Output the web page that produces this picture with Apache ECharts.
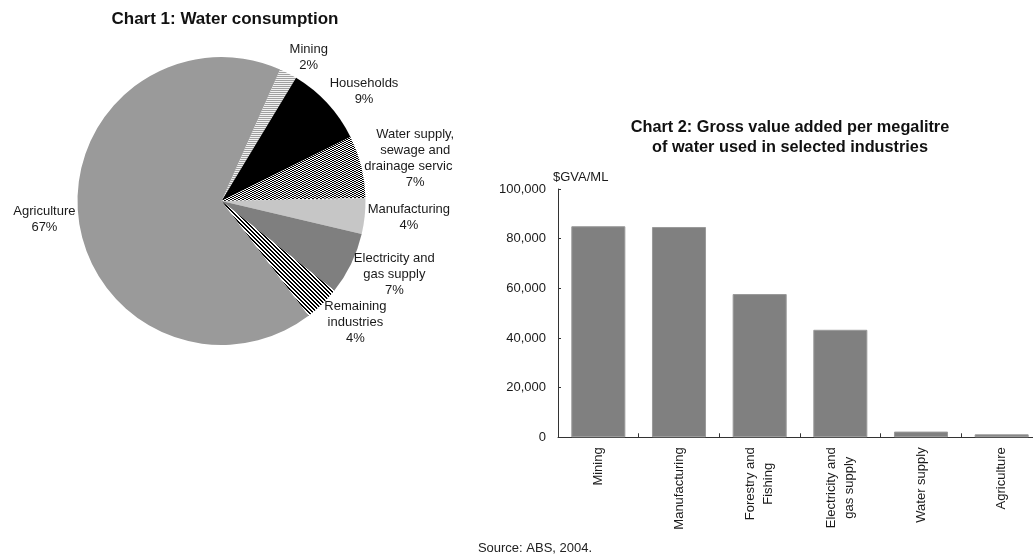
<!DOCTYPE html>
<html>
<head>
<meta charset="utf-8">
<script src="https://cdn.jsdelivr.net/npm/echarts@6/dist/echarts.min.js"></script>
<style>
  html, body { margin: 0; padding: 0; background: #fff; overflow: hidden; width: 1033px; height: 559px; }
  #pie { position: absolute; left: 0; top: 0; width: 453px; height: 559px; }
  #bar { position: absolute; left: 453px; top: 0; width: 600px; height: 559px; }
</style>
</head>
<body>
<div id="pie"></div>
<div id="bar"></div>
<script>
// ---- Data ----
var pieTitle = 'Chart 1: Water consumption';
var pieNames = ['Mining', 'Households', 'Water supply,\nsewage and\ndrainage services', 'Manufacturing',
                'Electricity and\ngas supply', 'Remaining\nindustries', 'Agriculture'];
var pieValues = [2, 9, 7, 4, 7, 4, 67];

var barTitle = 'Chart 2: Gross value added per megalitre\nof water used in selected industries';
var barUnit = '$GVA/ML';
var barCategories = ['Mining', 'Manufacturing', 'Forestry and\nFishing', 'Electricity and\ngas supply', 'Water supply', 'Agriculture'];
var barValues = [85000, 84700, 57700, 43300, 2300, 1200];
var yTicks = [0, 20000, 40000, 60000, 80000, 100000];
var sourceText = 'Source: ABS, 2004.';

var FONT = '"Liberation Sans", Arial, Helvetica, sans-serif';

// ---- Patterns ----
function makePattern(w, h, fn) {
  var c = document.createElement('canvas');
  c.width = w; c.height = h;
  var ctx = c.getContext('2d');
  for (var y = 0; y < h; y++) for (var x = 0; x < w; x++) {
    ctx.fillStyle = fn(x, y);
    ctx.fillRect(x, y, 1, 1);
  }
  return { image: c, repeat: 'repeat' };
}
var miningFill = makePattern(2, 2, function (x, y) { return y % 2 === 0 ? '#a0a0a0' : '#f2f2f2'; });
var waterFill = makePattern(4, 4, function (x, y) { return ((x + 2 * y) % 4) < 2 ? '#000000' : '#ffffff'; });
var remainFill = makePattern(4, 4, function (x, y) { return ((x - y + 8) % 4) < 2 ? '#000000' : '#ffffff'; });
var sliceFills = [miningFill, '#000000', waterFill, '#c6c6c6', '#7f7f7f', remainFill, '#9a9a9a'];

// ---- Pie geometry (for label placement, derived from the data) ----
var PIE_CX = 221.5, PIE_CY = 201, PIE_R = 144, START_DEG = 24; // clockwise from 12 o'clock
var pieTotal = pieValues.reduce(function (a, b) { return a + b; }, 0);
var pieMid = [];
(function () {
  var acc = 0;
  for (var i = 0; i < pieValues.length; i++) {
    var a0 = START_DEG + acc / pieTotal * 360;
    acc += pieValues[i];
    var a1 = START_DEG + acc / pieTotal * 360;
    pieMid.push((a0 + a1) / 2 * Math.PI / 180);
  }
})();

// ---- Pie chart ----
var pieChart = echarts.init(document.getElementById('pie'), null, { renderer: 'canvas' });
pieChart.setOption({
  animation: false,
  graphic: [{
    type: 'text', x: 225, y: 19,
    style: { text: pieTitle, font: 'bold 17px ' + FONT, fill: '#111', align: 'center', verticalAlign: 'middle' }
  }],
  series: [{
    type: 'pie',
    center: [PIE_CX, PIE_CY],
    radius: PIE_R,
    startAngle: 90 - START_DEG,
    clockwise: true,
    avoidLabelOverlap: false,
    silent: true,
    data: pieNames.map(function (n, i) {
      return { name: n, value: pieValues[i], itemStyle: { color: sliceFills[i] } };
    }),
    itemStyle: { borderWidth: 0 },
    label: {
      show: true,
      position: 'outside',
      fontFamily: FONT,
      fontSize: 13,
      color: '#1a1a1a',
      formatter: function (p) {
        return p.name.split('\n').concat([p.value + '%']).map(function (s) { return '{c|' + s + '}'; }).join('\n');
      },
      rich: { c: { align: 'center', fontFamily: FONT, fontSize: 13, lineHeight: 16, color: '#1a1a1a' } }
    },
    labelLine: { show: false, length: 3, length2: 0 },
    labelLayout: function (p) {
      var th = pieMid[p.dataIndex];
      var sx = Math.sin(th), sy = -Math.cos(th);
      var R = PIE_R + 3;
      var w = p.labelRect.width, h = p.labelRect.height;
      return {
        x: PIE_CX + R * sx + (sx >= 0 ? 1 : -1) * (w / 2),
        y: PIE_CY + R * sy + sy * h / 2,
        align: 'center',
        verticalAlign: 'middle',
        hideOverlap: false,
        moveOverlap: false
      };
    }
  }]
});

// ---- Bar chart ----
var barChart = echarts.init(document.getElementById('bar'), null, { renderer: 'canvas' });
barChart.setOption({
  animation: false,
  graphic: [{
    type: 'text', x: 337, y: 138,
    style: { text: barTitle, font: 'bold 16.3px ' + FONT, fill: '#111', align: 'center', verticalAlign: 'middle', lineHeight: 20 }
  }, {
    type: 'text', x: 82, y: 548,
    style: { text: sourceText, font: '13px ' + FONT, fill: '#222', align: 'center', verticalAlign: 'middle' }
  }],
  grid: { left: 105, top: 189, width: 484, height: 248.3 },
  xAxis: {
    type: 'category',
    data: barCategories,
    axisLine: { lineStyle: { color: '#333', width: 1 } },
    axisTick: { show: true, inside: true, length: 4, lineStyle: { color: '#333' } },
    axisLabel: {
      interval: 0, rotate: 90, margin: 10,
      fontFamily: FONT, fontSize: 13, color: '#1a1a1a',
      formatter: function (v) { return v.split('\n').map(function (s) { return '{c|' + s + '}'; }).join('\n'); },
      rich: { c: { align: 'center', fontFamily: FONT, fontSize: 13, lineHeight: 18, color: '#1a1a1a' } }
    }
  },
  yAxis: {
    type: 'value',
    min: yTicks[0], max: yTicks[yTicks.length - 1], interval: yTicks[1] - yTicks[0],
    name: barUnit,
    nameLocation: 'end',
    nameGap: 5,
    nameTextStyle: { fontFamily: FONT, fontSize: 13, color: '#1a1a1a', align: 'left', padding: [0, 0, 0, -5] },
    axisLine: { show: true, lineStyle: { color: '#333', width: 1 } },
    axisTick: { show: true, inside: true, length: 3, lineStyle: { color: '#333' } },
    splitLine: { show: false },
    axisLabel: {
      margin: 12, fontFamily: FONT, fontSize: 13, color: '#1a1a1a',
      formatter: function (v) { return v.toLocaleString('en-US'); }
    }
  },
  series: [{
    type: 'bar',
    data: barValues,
    barWidth: '67%',
    silent: true,
    itemStyle: { color: '#808080', borderColor: '#9a9a9a', borderWidth: 1 }
  }]
});
</script>
</body>
</html>
